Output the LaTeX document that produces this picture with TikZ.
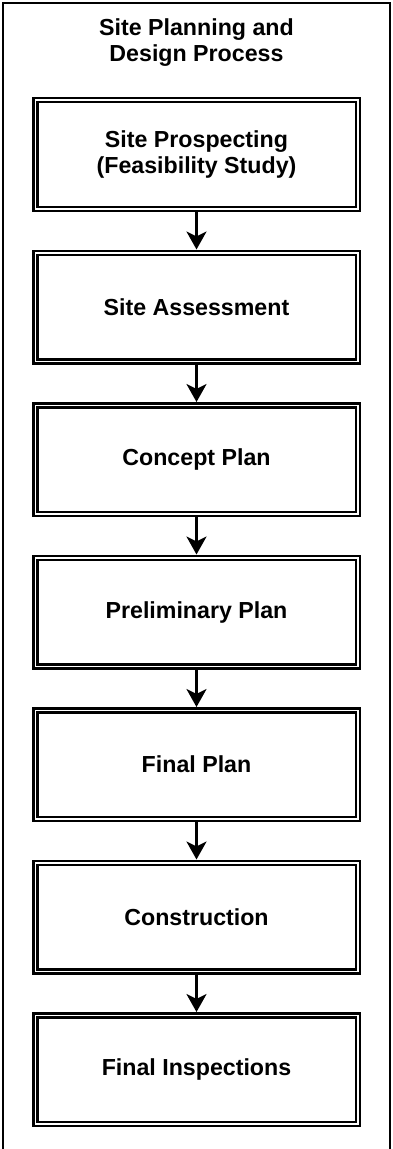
\documentclass[tikz,border=0pt]{standalone}
\usepackage{fontspec}
\setmainfont{Liberation Sans}
\usetikzlibrary{positioning,arrows.meta}
\tikzset{
  stagebox/.style={draw, line width=0.05cm, double, double distance=0.03cm,
    minimum width=6.45cm, minimum height=2.17cm, inner sep=0pt, outer sep=0.065cm,
    align=center, font=\fontsize{13.2}{14.3}\selectfont\bfseries},
  flowarrow/.style={line width=0.06cm, -{Stealth[length=0.36cm,width=0.4cm,inset=0.1cm]}}
}

\begin{document}
\begin{tikzpicture}[node distance=0.75cm]
        \useasboundingbox (0,0) rectangle (7.86,-22.98);
        % Frame
        \draw[line width=0.04cm] (0.06,-22.98) -- (0.06,-0.06) -- (7.80,-0.06) -- (7.80,-22.98);
        % Title
        \node[align=center, font=\fontsize{13.2}{14.3}\selectfont\bfseries] (title) at (3.93,-0.85) {Site Planning and\\Design Process};
        % Stages
        \node[stagebox] (prospect) at (3.93,-3.09) {Site Prospecting\\(Feasibility Study)};
        \node[stagebox, below=of prospect] (assess) {Site Assessment};
        \node[stagebox, below=of assess] (concept) {Concept Plan};
        \node[stagebox, below=of concept] (prelim) {Preliminary Plan};
        \node[stagebox, below=of prelim] (final) {Final Plan};
        \node[stagebox, below=of final] (construct) {Construction};
        \node[stagebox, below=of construct] (inspect) {Final Inspections};
        % Arrows
        \foreach \a/\b in {prospect/assess, assess/concept, concept/prelim, prelim/final, final/construct, construct/inspect}
          \draw[flowarrow] (\a) -- (\b);
    \end{tikzpicture}
\end{document}
